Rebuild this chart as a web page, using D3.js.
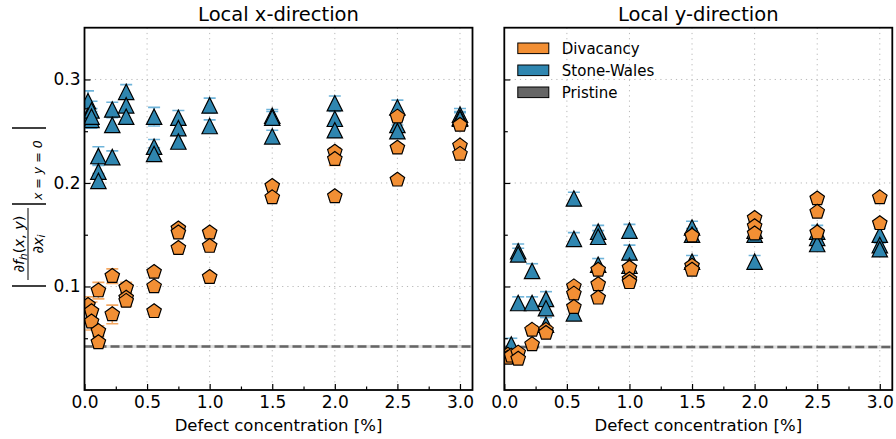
<!DOCTYPE html>
<html>
<head>
<meta charset="utf-8">
<script src="https://cdn.jsdelivr.net/npm/d3@7"></script>
<style>
  html, body { margin: 0; padding: 0; background: #fff; }
  svg { display: block; font-family: "DejaVu Sans", sans-serif; }
</style>
</head>
<body>
<div id="chart"></div>
<script>
// --- Données -------------------------------------------------------------
const xTicks = [0, 0.5, 1.0, 1.5, 2.0, 2.5, 3.0];
const xMinor = [0.25, 0.75, 1.25, 1.75, 2.25, 2.75];
const yTicks = [0.1, 0.2, 0.3];
const yMinor = [0.05, 0.15, 0.25];
const seriesNames = ['Divacancy', 'Stone-Wales', 'Pristine'];

// Direction x — Stone-Wales
const swXConc = [0.028, 0.028, 0.056, 0.056, 0.056, 0.111, 0.111, 0.111, 0.222, 0.222, 0.222,
                 0.333, 0.333, 0.333, 0.556, 0.556, 0.556, 0.75, 0.75, 0.75, 1.0, 1.0,
                 1.5, 1.5, 1.5, 2.0, 2.0, 2.0, 2.5, 2.5, 2.5, 3.0, 3.0, 3.0];
const swXVal  = [0.279, 0.265, 0.270, 0.261, 0.264, 0.226, 0.211, 0.202, 0.271, 0.256, 0.225,
                 0.288, 0.275, 0.264, 0.264, 0.235, 0.228, 0.263, 0.253, 0.240, 0.275, 0.255,
                 0.265, 0.263, 0.245, 0.277, 0.262, 0.251, 0.273, 0.256, 0.250, 0.266, 0.263, 0.262];
const swXErr  = [0.010, 0.010, 0.009, 0.008, 0.008, 0.009, 0.007, 0.007, 0.007, 0.007, 0.006,
                 0.007, 0.006, 0.006, 0.009, 0.007, 0.006, 0.007, 0.006, 0.006, 0.007, 0.006,
                 0.006, 0.006, 0.006, 0.007, 0.007, 0.006, 0.007, 0.006, 0.006, 0.006, 0.006, 0.006];

// Direction x — Divacancy
const divXConc = [0.028, 0.056, 0.056, 0.111, 0.111, 0.111, 0.222, 0.222, 0.333, 0.333, 0.333,
                  0.556, 0.556, 0.556, 0.75, 0.75, 0.75, 1.0, 1.0, 1.0, 1.5, 1.5,
                  2.0, 2.0, 2.0, 2.5, 2.5, 2.5, 3.0, 3.0, 3.0];
const divXVal  = [0.082, 0.076, 0.066, 0.096, 0.057, 0.046, 0.110, 0.073, 0.099, 0.089, 0.086,
                  0.114, 0.100, 0.076, 0.156, 0.152, 0.137, 0.152, 0.139, 0.109, 0.197, 0.186,
                  0.230, 0.223, 0.187, 0.264, 0.234, 0.203, 0.256, 0.236, 0.228];
const divXErr  = [0.008, 0.009, 0.008, 0.008, 0.005, 0.004, 0.007, 0.009, 0.005, 0.004, 0.005,
                  0.003, 0.003, 0.003, 0.003, 0.003, 0.003, 0.003, 0.003, 0.003, 0.003, 0.003,
                  0.004, 0.006, 0.003, 0.003, 0.003, 0.003, 0.003, 0.003, 0.003];

// Direction y — Stone-Wales
const swYConc = [0.056, 0.111, 0.111, 0.111, 0.222, 0.222, 0.333, 0.333, 0.333,
                 0.556, 0.556, 0.556, 0.75, 0.75, 0.75, 1.0, 1.0, 1.0,
                 1.5, 1.5, 1.5, 2.0, 2.0, 2.0, 2.5, 2.5, 2.5, 3.0, 3.0, 3.0];
const swYVal  = [0.044, 0.134, 0.131, 0.084, 0.115, 0.084, 0.088, 0.079, 0.063,
                 0.185, 0.146, 0.074, 0.153, 0.148, 0.121, 0.154, 0.133, 0.120,
                 0.157, 0.150, 0.124, 0.154, 0.150, 0.124, 0.153, 0.147, 0.141, 0.150, 0.140, 0.136];
const swYErr  = [0.006, 0.007, 0.006, 0.006, 0.007, 0.006, 0.007, 0.006, 0.007,
                 0.006, 0.006, 0.006, 0.006, 0.006, 0.006, 0.006, 0.007, 0.006,
                 0.006, 0.006, 0.006, 0.006, 0.006, 0.006, 0.006, 0.006, 0.006, 0.006, 0.006, 0.006];

// Direction y — Divacancy
const divYConc = [0.028, 0.028, 0.056, 0.111, 0.111, 0.222, 0.222, 0.333, 0.333,
                  0.556, 0.556, 0.556, 0.75, 0.75, 0.75, 1.0, 1.0, 1.0,
                  1.5, 1.5, 1.5, 2.0, 2.0, 2.0, 2.5, 2.5, 2.5, 3.0, 3.0];
const divYVal  = [0.034, 0.031, 0.033, 0.036, 0.030, 0.058, 0.044, 0.058, 0.055,
                  0.100, 0.093, 0.080, 0.116, 0.102, 0.089, 0.118, 0.107, 0.104,
                  0.149, 0.120, 0.116, 0.166, 0.158, 0.151, 0.185, 0.172, 0.152, 0.186, 0.161];
const divYErr  = [0.003, 0.003, 0.003, 0.003, 0.003, 0.004, 0.003, 0.004, 0.003,
                  0.003, 0.003, 0.003, 0.003, 0.003, 0.003, 0.003, 0.003, 0.003,
                  0.003, 0.003, 0.003, 0.003, 0.003, 0.003, 0.003, 0.003, 0.003, 0.003, 0.003];

// Référence sans défaut (ligne pointillée)
const pristineX = 0.042, pristineY = 0.0415, pristineSpread = 0.0015;

// --- Mise en page ----------------------------------------------------------
const W = 896, H = 439;
const COLORS = { div: '#f28f34', sw: '#2f86b0', pristine: '#666666' };
const ERR_COLORS = { div: '#f5a862', sw: '#6fb4da' };
const plotTop = 27.7, plotBottom = 390, plotWidth = 388;

const svg = d3.select('#chart').append('svg')
    .attr('width', W)
    .attr('height', H);

const y = d3.scaleLinear().domain([0, 0.35]).range([plotBottom, plotTop]);

// Formes de marqueurs (façon matplotlib : '^' et 'p', taille ~15)
const triPath = (r) => `M0,${-r}L${-r},${r}L${r},${r}Z`;
const pentPath = (r) => {
    const pts = d3.range(5).map(k => {
        const a = -Math.PI / 2 + k * 2 * Math.PI / 5;
        return [r * Math.cos(a), r * Math.sin(a)];
    });
    return 'M' + pts.map(p => p.join(',')).join('L') + 'Z';
};

const zip = (c, v, e) => c.map((cc, i) => ({ c: cc, v: v[i], e: e[i] }));

const panels = [
    { id: 'px', title: 'Local x-direction', left: 84.5,
      sw: zip(swXConc, swXVal, swXErr), div: zip(divXConc, divXVal, divXErr),
      pristine: pristineX, yLabels: true, legend: false },
    { id: 'py', title: 'Local y-direction', left: 504.3,
      sw: zip(swYConc, swYVal, swYErr), div: zip(divYConc, divYVal, divYErr),
      pristine: pristineY, yLabels: false, legend: true }
];

panels.forEach(p => {
    const x = d3.scaleLinear().domain([0, 3.1]).range([p.left, p.left + plotWidth]);
    const g = svg.append('g');

    // Clip sur la zone de tracé
    g.append('clipPath').attr('id', 'clip-' + p.id)
        .append('rect')
        .attr('x', p.left).attr('y', plotTop)
        .attr('width', plotWidth).attr('height', plotBottom - plotTop);

    // Grille pointillée
    const grid = g.append('g').attr('stroke', '#b8b8b8').attr('stroke-width', 1)
        .attr('stroke-dasharray', '1.2,4');
    grid.selectAll('.gx').data(xTicks.slice(1)).join('line')
        .attr('x1', d => x(d)).attr('x2', d => x(d))
        .attr('y1', plotTop).attr('y2', plotBottom);
    grid.selectAll('.gy').data(yTicks).join('line')
        .attr('x1', p.left).attr('x2', p.left + plotWidth)
        .attr('y1', d => y(d)).attr('y2', d => y(d));

    const plot = g.append('g').attr('clip-path', `url(#clip-${p.id})`);

    // Ligne "Pristine" + bande légère
    plot.append('rect')
        .attr('x', p.left).attr('width', plotWidth)
        .attr('y', y(p.pristine + pristineSpread))
        .attr('height', y(p.pristine - pristineSpread) - y(p.pristine + pristineSpread))
        .attr('fill', '#bdbdbd').attr('opacity', 0.5);
    plot.append('line')
        .attr('x1', x(0)).attr('x2', x(3.1))
        .attr('y1', y(p.pristine)).attr('y2', y(p.pristine))
        .attr('stroke', COLORS.pristine).attr('stroke-width', 2.5)
        .attr('stroke-dasharray', '9,4');

    // Séries : Stone-Wales d'abord, Divacancy par-dessus
    const drawSeries = (data, color, errColor, path) => {
        const s = plot.append('g');
        const eb = s.append('g').attr('stroke', errColor).attr('stroke-width', 1.6);
        eb.selectAll('line.v').data(data).join('line')
            .attr('x1', d => x(d.c)).attr('x2', d => x(d.c))
            .attr('y1', d => y(d.v - d.e)).attr('y2', d => y(d.v + d.e));
        [-1, 1].forEach(sgn => {
            eb.selectAll(null).data(data).join('line')
                .attr('x1', d => x(d.c) - 6).attr('x2', d => x(d.c) + 6)
                .attr('y1', d => y(d.v + sgn * d.e)).attr('y2', d => y(d.v + sgn * d.e));
        });
        s.selectAll('path').data(data).join('path')
            .attr('transform', d => `translate(${x(d.c)},${y(d.v)})`)
            .attr('d', path)
            .attr('fill', color)
            .attr('stroke', '#000')
            .attr('stroke-width', 1.2);
    };
    drawSeries(p.sw, COLORS.sw, ERR_COLORS.sw, triPath(7.7));
    drawSeries(p.div, COLORS.div, ERR_COLORS.div, pentPath(7.6));

    // Axes (graduations vers l'intérieur)
    g.append('g').attr('transform', `translate(0,${plotBottom})`)
        .call(d3.axisBottom(x).tickValues(xTicks).tickFormat(d3.format('.1f'))
            .tickSizeInner(-6).tickSizeOuter(0).tickPadding(6));
    g.append('g').attr('transform', `translate(0,${plotBottom})`)
        .call(d3.axisBottom(x).tickValues(xMinor).tickFormat('')
            .tickSizeInner(-3.5).tickSizeOuter(0));
    g.append('g').attr('transform', `translate(${p.left},0)`)
        .call(d3.axisLeft(y).tickValues(yTicks)
            .tickFormat(p.yLabels ? d3.format('.1f') : '')
            .tickSizeInner(-6).tickSizeOuter(0).tickPadding(4));
    g.append('g').attr('transform', `translate(${p.left},0)`)
        .call(d3.axisLeft(y).tickValues(yMinor).tickFormat('')
            .tickSizeInner(-3.5).tickSizeOuter(0));
    g.selectAll('.domain').remove();
    g.selectAll('.tick line').attr('stroke', '#000').attr('stroke-width', 1.2);
    g.selectAll('.tick text')
        .attr('font-family', '"DejaVu Sans", sans-serif')
        .attr('font-size', 17).attr('fill', '#000');

    // Cadre
    g.append('rect')
        .attr('x', p.left).attr('y', plotTop)
        .attr('width', plotWidth).attr('height', plotBottom - plotTop)
        .attr('fill', 'none').attr('stroke', '#000').attr('stroke-width', 1.8);

    // Titres
    g.append('text')
        .attr('x', p.left + plotWidth / 2).attr('y', 21)
        .attr('text-anchor', 'middle').attr('font-size', 19.5)
        .text(p.title);
    g.append('text')
        .attr('x', p.left + plotWidth / 2).attr('y', 431)
        .attr('text-anchor', 'middle').attr('font-size', 16.5)
        .text('Defect concentration [%]');

    // Légende (sans cadre)
    if (p.legend) {
        const lg = g.append('g').attr('transform', `translate(${p.left + 13.5},0)`);
        const cols = [COLORS.div, COLORS.sw, COLORS.pristine];
        seriesNames.forEach((name, i) => {
            const cy = 48.3 + i * 22;
            lg.append('rect')
                .attr('x', 0).attr('y', cy - 5.3)
                .attr('width', 31).attr('height', 10.6)
                .attr('fill', cols[i]).attr('stroke', '#000').attr('stroke-width', 1);
            lg.append('text')
                .attr('x', 44).attr('y', cy + 5.5)
                .attr('font-size', 15)
                .text(name);
        });
    }
});

// --- Label Y en notation mathématique (tourné de -90°) -------------------
const yl = svg.append('g').attr('transform', 'translate(30,205) rotate(-90)');
const bar = (lx) => yl.append('line')
    .attr('x1', lx).attr('x2', lx).attr('y1', -18).attr('y2', 16)
    .attr('stroke', '#000').attr('stroke-width', 1.3);
bar(-81);
bar(1);
bar(77);
yl.append('line')
    .attr('x1', -75).attr('x2', -3).attr('y1', -2).attr('y2', -2)
    .attr('stroke', '#000').attr('stroke-width', 1);

const num = yl.append('text').attr('x', -39).attr('y', -6)
    .attr('text-anchor', 'middle').attr('font-size', 14.5);
num.append('tspan').attr('font-style', 'italic').text('∂f');
num.append('tspan').attr('font-style', 'italic').attr('font-size', 10.5).attr('dy', 2.5).text('h');
num.append('tspan').attr('dy', -2.5).text('(');
num.append('tspan').attr('font-style', 'italic').text('x');
num.append('tspan').text(', ');
num.append('tspan').attr('font-style', 'italic').text('y');
num.append('tspan').text(')');

const den = yl.append('text').attr('x', -39).attr('y', 12.5)
    .attr('text-anchor', 'middle').attr('font-size', 14.5);
den.append('tspan').attr('font-style', 'italic').text('∂x');
den.append('tspan').attr('font-style', 'italic').attr('font-size', 10.5).attr('dy', 2.5).text('i');

yl.append('text').attr('x', 5).attr('y', 12)
    .attr('font-size', 12.5).attr('font-style', 'italic')
    .attr('xml:space', 'preserve')
    .text('x = y = 0');
</script>
</body>
</html>
